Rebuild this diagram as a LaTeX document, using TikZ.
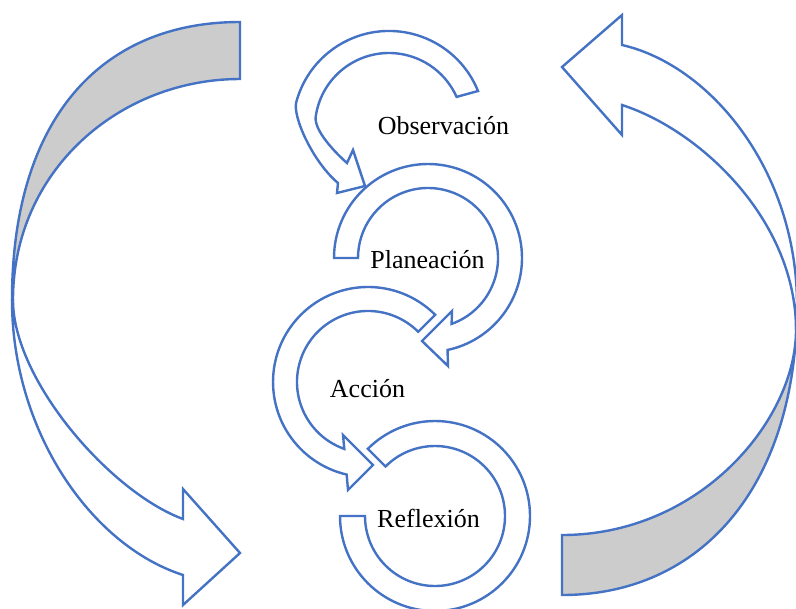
\documentclass[tikz,border=0pt]{standalone}
\usepackage{fontspec}
\setmainfont{Liberation Serif}
\definecolor{wordblue}{RGB}{68,114,196}
\tikzset{
  band/.style={draw=wordblue,line width=1.8pt,line join=miter},
  backside/.style={band,fill=gray!40},
  lbl/.style={font=\fontsize{19.5}{23}\selectfont,anchor=base,inner sep=0pt}
}
\begin{document}
\begin{tikzpicture}[x=0.75pt,y=-0.75pt]
\useasboundingbox (0,0) rectangle (796,608);
% big arrow on the left
\draw[backside] (240,22) .. controls (100,22) and (12,120) .. (12,300) -- (13,300)
  .. controls (13,170) and (120,79) .. (240,79) -- cycle;
\draw[band] (12,300) .. controls (12,430) and (90,545) .. (183,575) -- (183,605) -- (240,553)
  -- (183,489) -- (183,519) .. controls (110,492) and (13,380) .. (13,300) -- cycle;
% big arrow on the right
\draw[backside] (562,595) .. controls (702,595) and (797,485) .. (797,305) -- (796,330)
  .. controls (796,420) and (700,535) .. (562,535) -- cycle;
\draw[band] (797,305) .. controls (797,170) and (710,65) .. (622,45) -- (622,15) -- (562,67)
  -- (622,135) -- (622,105) .. controls (700,130) and (796,220) .. (796,330) -- cycle;
% the four small circular arrows
\draw[band] (478,91) arc[start angle=-22,end angle=-165,radius=96]
  .. controls (292.4,116.7) and (313,162) .. (338,183) -- (337,193) -- (365,186)
  -- (353,150) -- (347,163) .. controls (335.75,153.1) and (313.8,130.6) .. (315.7,116.7)
  arc[start angle=-172,end angle=-24,radius=74] -- cycle;
\draw[band] (334,258) arc[start angle=-180,end angle=78,radius=94] -- (448,366) -- (422,341)
  -- (452,311) -- (451.6,323.9) arc[start angle=70.3,end angle=-180,radius=70] -- cycle;
\draw[band] (435.2,314.8) arc[start angle=-45,end angle=-257,radius=95] -- (348,490) -- (373,465)
  -- (343,435) -- (344.3,448.9) arc[start angle=-250.5,end angle=-45,radius=71] -- cycle;
\draw[band] (340,516) arc[start angle=-180,end angle=-495,radius=95] -- (385.5,466.5)
  arc[start angle=-495,end angle=-180,radius=70] -- cycle;
\node[lbl] (obs) at (443.5,134) {Observación};
\node[lbl] (plan) at (427.5,268) {Planeación};
\node[lbl] (acc) at (367.5,397) {Acción};
\node[lbl] (refl) at (428.5,527) {Reflexión};
\end{tikzpicture}
\end{document}
